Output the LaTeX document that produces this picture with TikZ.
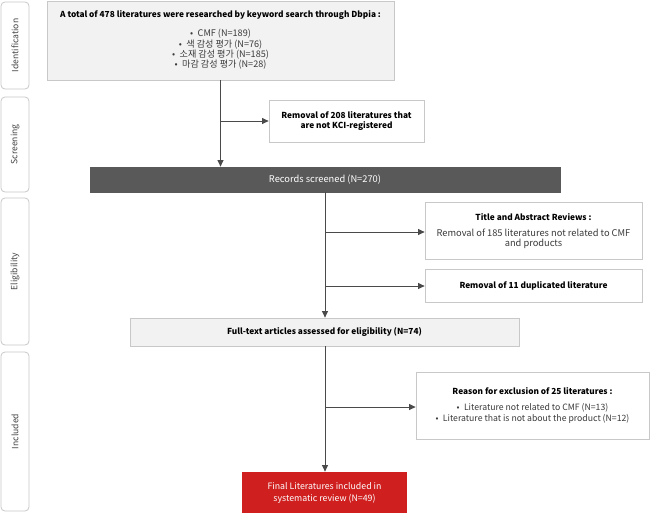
\documentclass[tikz,border=0pt]{standalone}
\usepackage{fontspec}
\setmainfont{Noto Sans CJK KR}
\usetikzlibrary{arrows.meta}
\definecolor{boxline}{HTML}{C8C8C8}
\definecolor{lightfill}{HTML}{F2F2F2}
\definecolor{darkfill}{HTML}{595959}
\definecolor{redfill}{HTML}{D01F1F}
\definecolor{subtext}{HTML}{3A3A3A}
\definecolor{sidetext}{HTML}{444444}
\definecolor{linecol}{HTML}{4A4A4A}
\tikzset{
  box/.style={draw=boxline, line width=0.8pt, inner sep=0pt, align=center,
    font=\fontsize{8.3}{10}\selectfont, anchor=center},
  sidebox/.style={draw=boxline, line width=0.8pt, rounded corners=4pt, inner sep=0pt},
  sidelabel/.style={rotate=90, text=sidetext, font=\fontsize{8.6}{10}\selectfont},
  flow/.style={draw=linecol, line width=0.9pt, -{Triangle[length=6.5pt,width=6pt]}},
  headtext/.style={font=\fontsize{8.3}{10}\selectfont\bfseries},
}
\begin{document}
\begin{tikzpicture}[x=1pt,y=-1pt]
\useasboundingbox (0,0) rectangle (650,512);
\fill[white] (0,0) rectangle (650,512);

% side labels
\draw[sidebox] (1,2) rectangle (29,89);
\node[sidelabel] (lid) at (15,45.5) {Identification};
\draw[sidebox] (1,97) rectangle (29,192);
\node[sidelabel] (lsc) at (15,144.5) {Screening};
\draw[sidebox] (1,198) rectangle (29,345);
\node[sidelabel] (lel) at (15,271.5) {Eligibility};
\draw[sidebox] (1,352) rectangle (29,511);
\node[sidelabel] (lin) at (15,431.5) {Included};

% boxes
\node[box, fill=lightfill, minimum width=347pt, minimum height=79pt] (b1) at (220.5,40.5) {};
\node[headtext] (b1t) at (220.5,15.5) {A total of 478 literatures were researched by keyword search through Dbpia :};
\node[font=\fontsize{9.1}{9.25}\selectfont, text=subtext, align=center] (b1l) at (220.5,49.5)
  {•\enspace CMF (N=189)\\ •\enspace 색 감성 평가 (N=76)\\ •\enspace 소재 감성 평가 (N=185)\\ •\enspace 마감 감성 평가 (N=28)};

\node[box, fill=white, minimum width=155pt, minimum height=42pt,
  font=\fontsize{8.3}{10.8}\selectfont\bfseries] (b2) at (346.5,121)
  {Removal of 208 literatures that\\ are not KCI-registered};

\node[box, fill=darkfill, draw=darkfill, text=white, minimum width=470pt, minimum height=25pt,
  font=\fontsize{9.3}{10}\selectfont] (b3) at (325,179.5)
  {Records screened (N=270)};

\node[box, fill=white, minimum width=217pt, minimum height=57pt] (b4) at (533.5,230.5) {};
\node[headtext] (b4t) at (533.5,217) {Title and Abstract Reviews :};
\node[font=\fontsize{9.3}{10.3}\selectfont, text=subtext, align=center] (b4l) at (533.5,238.5)
  {Removal of 185 literatures not related to CMF\\ and products};

\node[box, fill=white, minimum width=217pt, minimum height=33pt,
  font=\fontsize{8.3}{10}\selectfont\bfseries] (b5) at (533.5,285.5)
  {Removal of 11 duplicated literature};

\node[box, fill=lightfill, minimum width=389pt, minimum height=28pt,
  font=\fontsize{8.3}{10}\selectfont\bfseries] (b6) at (324.5,332)
  {Full-text articles assessed for eligibility (N=74)};

\node[box, fill=white, minimum width=233pt, minimum height=67pt] (b7) at (532.5,405.5) {};
\node[headtext] (b7t) at (532.5,391.5) {Reason for exclusion of 25 literatures :};
\node[font=\fontsize{8.7}{11.8}\selectfont, text=subtext, align=center] (b7l) at (532.5,413.5)
  {•\enspace Literature not related to CMF (N=13)\\ •\enspace Literature that is not about the product (N=12)};

\node[box, fill=redfill, draw=redfill, text=white, minimum width=164pt, minimum height=42pt,
  font=\fontsize{8.8}{11.8}\selectfont] (b8) at (324.5,493)
  {Final Literatures included in\\ systematic review (N=49)};

% connectors
\coordinate (j1) at (b1.south |- b2.west);
\draw[flow] (b1.south) -- (b1.south |- b3.north);
\draw[flow] (j1) -- (b2.west);

\coordinate (j2) at (325,232);
\coordinate (j3) at (325,286);
\draw[flow] (b3.south -| j2) -- (b6.north -| j2);
\draw[flow] (j2) -- (j2 -| b4.west);
\draw[flow] (j3) -- (j3 -| b5.west);

\coordinate (j4) at (325,407);
\draw[flow] (b6.south -| j4) -- (b8.north -| j4);
\draw[flow] (j4) -- (j4 -| b7.west);
\end{tikzpicture}
\end{document}
